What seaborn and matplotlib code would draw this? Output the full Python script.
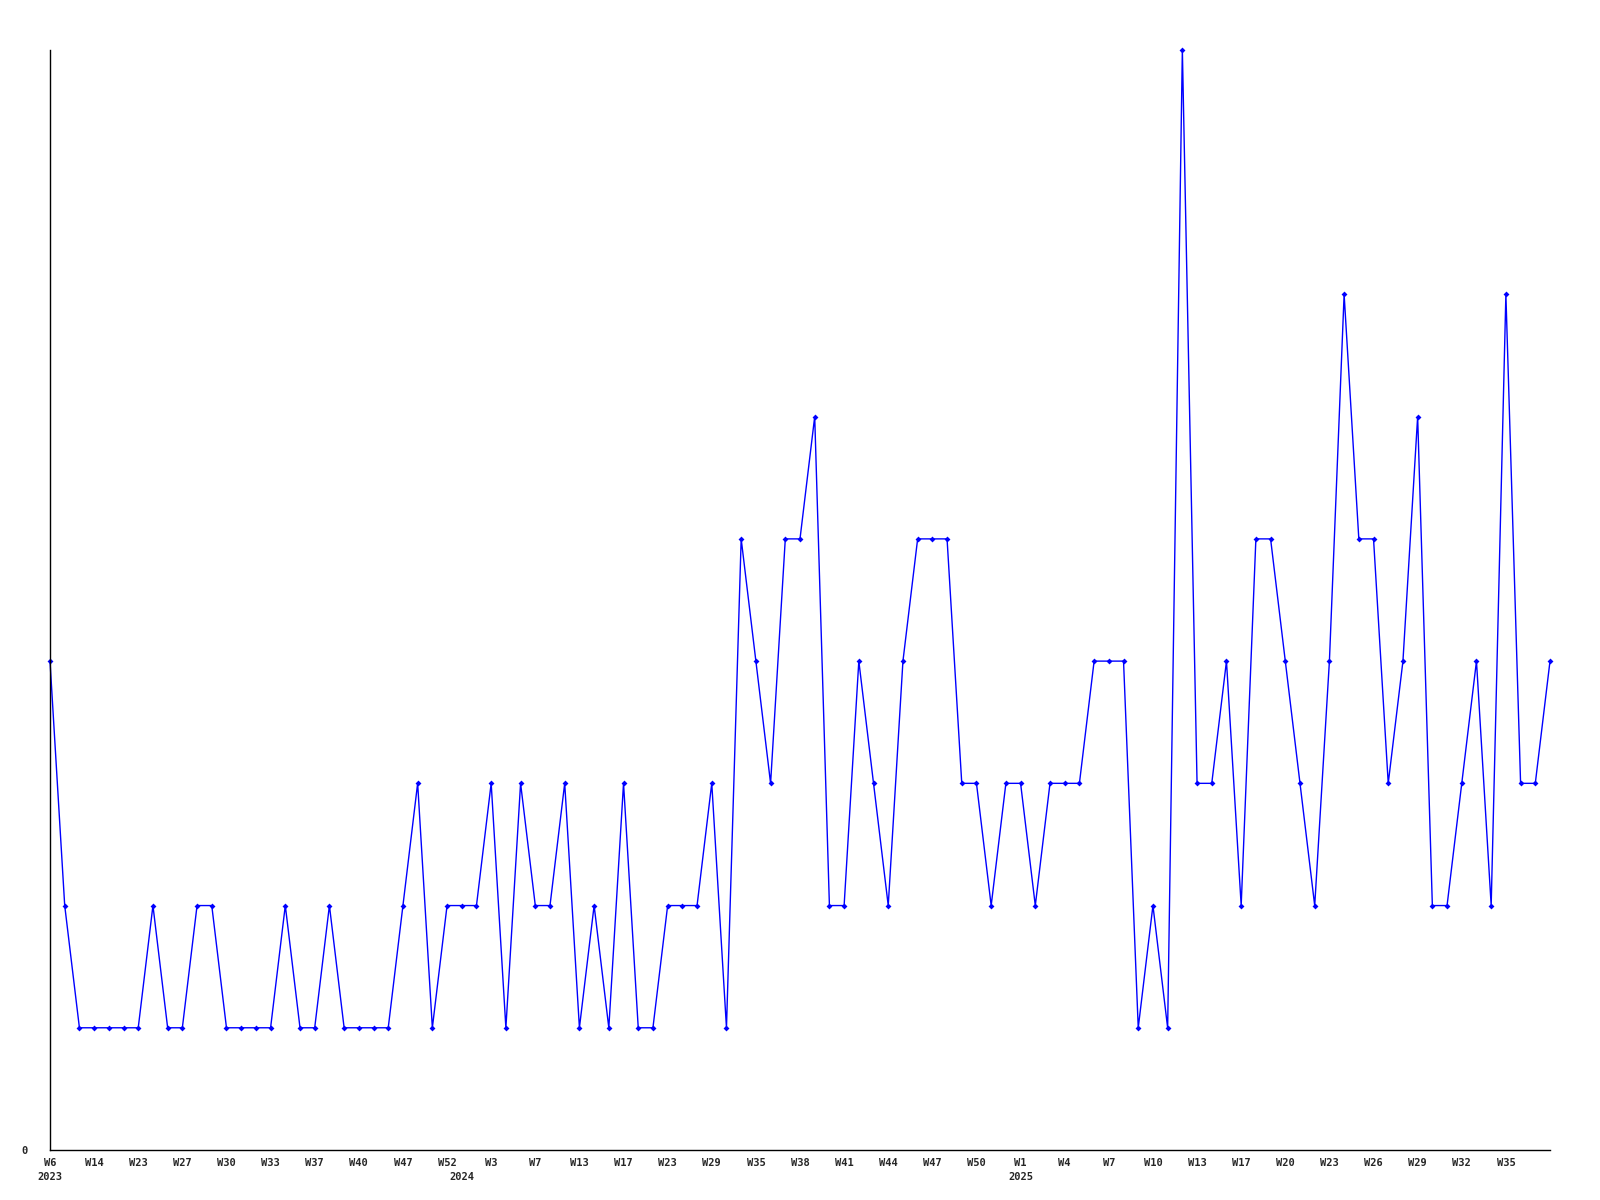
import numpy as np
import pandas as pd
import matplotlib
matplotlib.use("Agg")
import matplotlib.pyplot as plt
import seaborn as sns

# weekly counts
values = [4, 2, 1, 1, 1, 1, 1, 2, 1, 1,
          2, 2, 1, 1, 1, 1, 2, 1, 1, 2,
          1, 1, 1, 1, 2, 3, 1, 2, 2, 2,
          3, 1, 3, 2, 2, 3, 1, 2, 1, 3,
          1, 1, 2, 2, 2, 3, 1, 5, 4, 3,
          5, 5, 6, 2, 2, 4, 3, 2, 4, 5,
          5, 5, 3, 3, 2, 3, 3, 2, 3, 3,
          3, 4, 4, 4, 1, 2, 1, 9, 3, 3,
          4, 2, 5, 5, 4, 3, 2, 4, 7, 5,
          5, 3, 4, 6, 2, 2, 3, 4, 2, 7,
          3, 3, 4]

week_labels = ["W6", "W14", "W23", "W27", "W30", "W33", "W37", "W40", "W47", "W52",
               "W3", "W7", "W13", "W17", "W23", "W29", "W35", "W38", "W41", "W44",
               "W47", "W50", "W1", "W4", "W7", "W10", "W13", "W17", "W20", "W23",
               "W26", "W29", "W32", "W35"]
year_labels = ["2023", "2024", "2025"]
year_pos = [0, 28, 66]

df = pd.DataFrame({"idx": np.arange(len(values)), "count": values})

sns.set_style("white")
plt.rcParams["font.family"] = ["DejaVu Sans Mono", "DejaVu Sans"]

fig = plt.figure(figsize=(16, 12), dpi=100)
ax = fig.add_axes([50 / 1600, 50 / 1200, 1500 / 1600, 1100 / 1200])

sns.lineplot(data=df, x="idx", y="count", ax=ax, color="#0000ff", linewidth=1,
             marker="D", markersize=3, markeredgewidth=0, clip_on=False)

ax.set_xlim(0, len(values) - 1)
ax.set_ylim(0, 9)
ax.set_xlabel("")
ax.set_ylabel("")

tick_pos = np.arange(0, len(values), 3)[:len(week_labels)]
ax.set_xticks(tick_pos)
ax.set_xticklabels(week_labels, fontsize=7.5, fontweight="bold")
ax.set_yticks([0])
ax.set_yticklabels(["0"], fontsize=7.5, fontweight="bold")
ax.tick_params(axis="both", length=0, pad=6)
ax.tick_params(axis="y", pad=16)

for lab, p in zip(year_labels, year_pos):
    ax.text(p, -0.22, lab, ha="center", va="center", fontsize=7.5, fontweight="bold",
            transform=ax.transData, clip_on=False)

for s in ["top", "right"]:
    ax.spines[s].set_visible(False)
for s in ["left", "bottom"]:
    ax.spines[s].set_color("black")
    ax.spines[s].set_linewidth(1)

fig.savefig("out.png", dpi=100, facecolor="white")
